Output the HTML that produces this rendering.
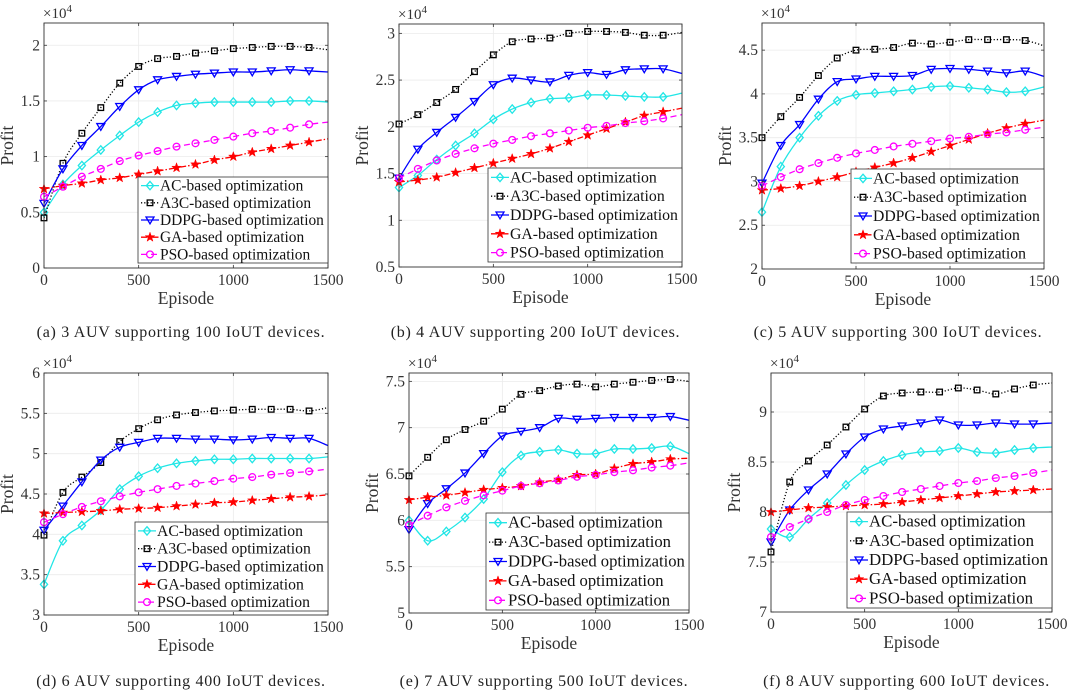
<!DOCTYPE html>
<html><head><meta charset="utf-8">
<style>
html,body{margin:0;padding:0;background:#fff;}
svg{display:block;}
text{font-family:"Liberation Serif","DejaVu Serif",serif;}
</style></head>
<body>
<svg id="fig" width="1080" height="696" viewBox="0 0 1080 696" xmlns="http://www.w3.org/2000/svg"></svg>
<script>
const episodes=[0,100,200,300,400,500,600,700,800,900,1000,1100,1200,1300,1400,1500];
const xTicks=[0,500,1000,1500];
const seriesNames=["AC-based optimization","A3C-based optimization","DDPG-based optimization","GA-based optimization","PSO-based optimization"];
// panel (a)
const aAC=[0.50,0.75,0.92,1.06,1.19,1.31,1.40,1.46,1.48,1.49,1.49,1.49,1.49,1.50,1.50,1.49];
const aA3C=[0.45,0.94,1.21,1.44,1.66,1.81,1.88,1.90,1.93,1.95,1.97,1.98,1.99,1.99,1.98,1.96];
const aDDPG=[0.58,0.89,1.10,1.27,1.45,1.60,1.69,1.72,1.74,1.75,1.76,1.76,1.77,1.78,1.77,1.76];
const aGA=[0.71,0.74,0.76,0.79,0.81,0.84,0.87,0.90,0.93,0.97,1.00,1.04,1.07,1.10,1.13,1.16];
const aPSO=[0.64,0.73,0.82,0.89,0.96,1.01,1.05,1.09,1.12,1.15,1.18,1.21,1.23,1.26,1.29,1.31];
const aTicks=["0","0.5","1","1.5","2"];
// panel (b)
const bAC=[1.35,1.48,1.65,1.80,1.93,2.08,2.19,2.26,2.30,2.31,2.34,2.34,2.33,2.32,2.32,2.36];
const bA3C=[2.03,2.13,2.26,2.40,2.59,2.77,2.91,2.94,2.95,3.00,3.02,3.02,3.01,2.98,2.98,3.01];
const bDDPG=[1.45,1.76,1.94,2.10,2.27,2.45,2.52,2.50,2.48,2.55,2.58,2.56,2.61,2.62,2.62,2.57];
const bGA=[1.41,1.43,1.46,1.51,1.56,1.61,1.66,1.71,1.77,1.84,1.91,1.98,2.05,2.12,2.16,2.20];
const bPSO=[1.45,1.55,1.64,1.71,1.77,1.82,1.86,1.90,1.93,1.96,1.99,2.01,2.04,2.06,2.09,2.13];
const bTicks=["0.5","1","1.5","2","2.5","3"];
// panel (c)
const cAC=[2.65,3.17,3.50,3.75,3.92,3.99,4.01,4.03,4.05,4.08,4.09,4.07,4.05,4.02,4.03,4.08];
const cA3C=[3.50,3.74,3.96,4.21,4.41,4.50,4.51,4.53,4.58,4.57,4.59,4.62,4.62,4.62,4.61,4.55];
const cDDPG=[2.98,3.41,3.65,3.94,4.14,4.17,4.20,4.20,4.21,4.28,4.29,4.28,4.26,4.24,4.26,4.20];
const cGA=[2.90,2.92,2.95,3.00,3.05,3.11,3.16,3.21,3.27,3.34,3.41,3.48,3.55,3.61,3.66,3.70];
const cPSO=[2.95,3.05,3.14,3.21,3.27,3.32,3.36,3.40,3.43,3.46,3.49,3.51,3.54,3.56,3.59,3.62];
const cTicks=["2","2.5","3","3.5","4","4.5"];
// panel (d)
const dAC=[3.38,3.92,4.11,4.30,4.56,4.72,4.82,4.88,4.91,4.93,4.93,4.94,4.94,4.94,4.94,4.96];
const dA3C=[3.99,4.52,4.71,4.89,5.15,5.31,5.42,5.48,5.51,5.53,5.54,5.55,5.55,5.55,5.53,5.57];
const dDDPG=[4.05,4.35,4.65,4.92,5.08,5.14,5.19,5.19,5.18,5.18,5.17,5.18,5.20,5.19,5.19,5.10];
const dGA=[4.26,4.27,4.28,4.29,4.31,4.32,4.33,4.35,4.37,4.39,4.40,4.42,4.44,4.46,4.47,4.49];
const dPSO=[4.15,4.25,4.34,4.41,4.47,4.52,4.56,4.60,4.63,4.66,4.69,4.71,4.74,4.76,4.78,4.81];
const dTicks=["3","3.5","4","4.5","5","5.5","6"];
// panel (e)
const eAC=[6.00,5.78,5.88,6.03,6.23,6.52,6.70,6.74,6.76,6.72,6.72,6.77,6.77,6.78,6.80,6.72];
const eA3C=[6.48,6.68,6.87,6.98,7.07,7.20,7.36,7.40,7.45,7.47,7.44,7.47,7.49,7.51,7.52,7.50];
const eDDPG=[5.90,6.18,6.34,6.51,6.72,6.91,6.96,7.00,7.10,7.09,7.10,7.11,7.11,7.11,7.12,7.08];
const eGA=[6.22,6.25,6.27,6.30,6.33,6.35,6.37,6.41,6.44,6.49,6.50,6.56,6.61,6.63,6.66,6.67];
const ePSO=[5.95,6.05,6.14,6.21,6.27,6.32,6.37,6.40,6.43,6.47,6.49,6.52,6.54,6.57,6.59,6.62];
const eTicks=["5","5.5","6","6.5","7","7.5"];
// panel (f)
const fAC=[7.83,7.75,7.93,8.09,8.27,8.42,8.51,8.57,8.60,8.61,8.64,8.60,8.59,8.62,8.64,8.65];
const fA3C=[7.60,8.30,8.51,8.67,8.85,9.03,9.16,9.19,9.20,9.20,9.24,9.22,9.18,9.23,9.27,9.29];
const fDDPG=[7.70,8.02,8.22,8.38,8.58,8.75,8.83,8.86,8.89,8.92,8.87,8.87,8.89,8.88,8.88,8.89];
const fGA=[8.00,8.02,8.04,8.05,8.06,8.07,8.08,8.10,8.12,8.14,8.16,8.18,8.20,8.21,8.22,8.23];
const fPSO=[7.75,7.85,7.93,8.00,8.07,8.12,8.16,8.20,8.23,8.26,8.29,8.31,8.34,8.36,8.39,8.42];
const fTicks=["7","7.5","8","8.5","9"];

const NS="http://www.w3.org/2000/svg";
const FONT='"Liberation Serif","DejaVu Serif",serif';
const svg=document.getElementById('fig');
function mk(tag,attrs,parent){const e=document.createElementNS(NS,tag);for(const k in attrs)e.setAttribute(k,attrs[k]);if(tag==='text')e.setAttribute('font-family',FONT);(parent||svg).appendChild(e);return e;}

const styles=[
 {color:"#22e6e6",dash:"",marker:"diamond"},
 {color:"#000000",dash:"1.2,2",marker:"square"},
 {color:"#0000ff",dash:"",marker:"tri"},
 {color:"#ff0000",dash:"6,2,1.5,2",marker:"star"},
 {color:"#ff00ff",dash:"6,4",marker:"circle"}
];
const markerNames=["ac-marker","a3c-marker","ddpg-marker","ga-marker","pso-marker"];
const lineNames=["ac-line","a3c-line","ddpg-line","ga-line","pso-line"];

function marker(type,x,y,color,g){
  const s=3.6;let el;
  if(type==="diamond") el=mk('polygon',{points:`${x},${y-s-0.6} ${x+s},${y} ${x},${y+s+0.6} ${x-s},${y}`,fill:"none",stroke:color,"stroke-width":1.3},g);
  else if(type==="square") el=mk('rect',{x:x-2.8,y:y-2.8,width:5.6,height:5.6,fill:"none",stroke:color,"stroke-width":1.3},g);
  else if(type==="tri") el=mk('polygon',{points:`${x-4},${y-3} ${x+4},${y-3} ${x},${y+3.8}`,fill:"none",stroke:color,"stroke-width":1.3},g);
  else if(type==="circle") el=mk('circle',{cx:x,cy:y,r:3.4,fill:"none",stroke:color,"stroke-width":1.3},g);
  else {let p=[];for(let i=0;i<10;i++){const r=i%2?2:5;const a=-Math.PI/2+i*Math.PI/5;p.push((x+r*Math.cos(a)).toFixed(2)+","+(y+r*Math.sin(a)).toFixed(2));}
    el=mk('polygon',{points:p.join(" "),fill:color,stroke:color,"stroke-width":0.5},g);}
  return el;
}
function smoothPath(pts){
  let d=`M${pts[0][0]},${pts[0][1]}`;
  for(let i=0;i<pts.length-1;i++){
    const p0=pts[Math.max(0,i-1)],p1=pts[i],p2=pts[i+1],p3=pts[Math.min(pts.length-1,i+2)];
    const c1x=p1[0]+(p2[0]-p0[0])/6,c1y=p1[1]+(p2[1]-p0[1])/6;
    const c2x=p2[0]-(p3[0]-p1[0])/6,c2y=p2[1]-(p3[1]-p1[1])/6;
    d+=` C${c1x.toFixed(2)},${c1y.toFixed(2)} ${c2x.toFixed(2)},${c2y.toFixed(2)} ${p2[0].toFixed(2)},${p2[1].toFixed(2)}`;
  }
  return d;
}

const panels=[
 {id:"a",L:44,R:328,T:23,B:268,ymin:0,ymax:2.2,ticks:aTicks,data:[aAC,aA3C,aDDPG,aGA,aPSO],leg:[138,177,328,263],cap:"(a) 3 AUV supporting 100 IoUT devices.",capY:337},
 {id:"b",L:399,R:682,T:24,B:267,ymin:0.5,ymax:3.1,ticks:bTicks,data:[bAC,bA3C,bDDPG,bGA,bPSO],leg:[488,168,682,262],cap:"(b) 4 AUV supporting 200 IoUT devices.",capY:337},
 {id:"c",L:762,R:1044,T:23,B:269,ymin:2,ymax:4.81,ticks:cTicks,data:[cAC,cA3C,cDDPG,cGA,cPSO],leg:[851,169,1044,263],cap:"(c) 5 AUV supporting 300 IoUT devices.",capY:337},
 {id:"d",L:44,R:328,T:373,B:615,ymin:3,ymax:6,ticks:dTicks,data:[dAC,dA3C,dDDPG,dGA,dPSO],leg:[135,522,328,611],cap:"(d) 6 AUV supporting 400 IoUT devices.",capY:686},
 {id:"e",L:409,R:689,T:373,B:613,ymin:5,ymax:7.59,ticks:eTicks,data:[eAC,eA3C,eDDPG,eGA,ePSO],leg:[486,513,689,610],cap:"(e) 7 AUV supporting 500 IoUT devices.",capY:686},
 {id:"f",L:771,R:1052,T:373,B:612,ymin:7,ymax:9.39,ticks:fTicks,data:[fAC,fA3C,fDDPG,fGA,fPSO],leg:[847,512,1052,608],cap:"(f) 8 AUV supporting 600 IoUT devices.",capY:686}
];

panels.forEach(P=>{
  const g=mk('g',{});
  
  
  const xs=v=>P.L+(v-0)/1500*(P.R-P.L);
  const ys=v=>P.B-(v-P.ymin)/(P.ymax-P.ymin)*(P.B-P.T);
  mk('rect',{x:P.L,y:P.T,width:P.R-P.L,height:P.B-P.T,fill:"#fff"},g);
  const grid=mk('g',{},g);
  
  
  xTicks.forEach(t=>mk('line',{x1:xs(t),x2:xs(t),y1:P.T,y2:P.B,stroke:"#ebebeb","stroke-width":0.8},grid));
  P.ticks.forEach(t=>mk('line',{x1:P.L,x2:P.R,y1:ys(+t),y2:ys(+t),stroke:"#ebebeb","stroke-width":0.8},grid));
  P.data.forEach((arr,si)=>{
    const st=styles[si];
    const pts=arr.map((v,i)=>[xs(episodes[i]),ys(v)]);
    const path=mk('path',{d:smoothPath(pts),fill:"none",stroke:st.color,"stroke-width":1.3,"stroke-dasharray":st.dash},g);
    
    
    for(let i=0;i<arr.length-1;i++){
      const m=marker(st.marker,pts[i][0],pts[i][1],st.color,g);
      
      
    }
  });
  const box=mk('rect',{x:P.L,y:P.T,width:P.R-P.L,height:P.B-P.T,fill:"none",stroke:"#333","stroke-width":0.9},g);
  
  
  xTicks.forEach(t=>{
    mk('line',{x1:xs(t),x2:xs(t),y1:P.B,y2:P.B-3,stroke:"#333","stroke-width":0.8},g);
    mk('line',{x1:xs(t),x2:xs(t),y1:P.T,y2:P.T+3,stroke:"#333","stroke-width":0.8},g);
    const tx=mk('text',{x:xs(t),y:P.B+17,"text-anchor":"middle","font-size":15.5,fill:"#333"},g);
    tx.textContent=t;
    
    
  });
  P.ticks.forEach(t=>{
    mk('line',{x1:P.L,x2:P.L+3,y1:ys(+t),y2:ys(+t),stroke:"#333","stroke-width":0.8},g);
    mk('line',{x1:P.R,x2:P.R-3,y1:ys(+t),y2:ys(+t),stroke:"#333","stroke-width":0.8},g);
    const ty=mk('text',{x:P.L-4,y:ys(+t)+5,"text-anchor":"end","font-size":15.5,fill:"#333"},g);
    ty.textContent=t;
    
    
  });
  const ex=mk('text',{x:P.L-1,y:P.T-5,"font-size":15,fill:"#333"},g);
  ex.innerHTML='×10<tspan dy="-6" font-size="11">4</tspan>';
  
  
  const xl=mk('text',{x:(P.L+P.R)/2,y:P.B+36,"text-anchor":"middle","font-size":17.5,fill:"#333"},g);
  xl.textContent="Episode";
  
  
  const yx=P.L-31, yy=(P.T+P.B)/2;
  const yl=mk('text',{x:yx,y:yy,"text-anchor":"middle","font-size":17.5,fill:"#333",transform:`rotate(-90 ${yx} ${yy})`},g);
  yl.textContent="Profit";
  
  
  const [lx,ly,rx,by]=P.leg;
  const lg=mk('g',{},g);
  
  
  mk('rect',{x:lx,y:ly,width:rx-lx,height:by-ly,fill:"#fff",stroke:"#333","stroke-width":0.8},lg);
  const rh=(by-ly)/5;
  const texts=[];
  seriesNames.forEach((n,si)=>{
    const st=styles[si];const cy=ly+rh*(si+0.5);
    const en=mk('g',{},lg);
    
    
    mk('line',{x1:lx+3,x2:lx+21,y1:cy,y2:cy,stroke:st.color,"stroke-width":1.3,"stroke-dasharray":st.dash},en);
    marker(st.marker,lx+12,cy,st.color,en);
    const t=mk('text',{x:lx+22,y:cy+5,"font-size":16,fill:"#111"},en);
    t.textContent=n;
    texts.push(t);
  });
  const w=texts[2].getComputedTextLength();
  const target=(rx-lx)-26;
  if(w>0){const fs=Math.max(11,Math.min(18,16*target/w));texts.forEach(t=>t.setAttribute('font-size',fs.toFixed(2)));}
  const cp=mk('text',{x:(P.L+P.R)/2-5,y:P.capY,"text-anchor":"middle","font-size":16,"letter-spacing":"0.7",fill:"#222"},g);
  cp.textContent=P.cap;
  
  
});
</script>
</body></html>
